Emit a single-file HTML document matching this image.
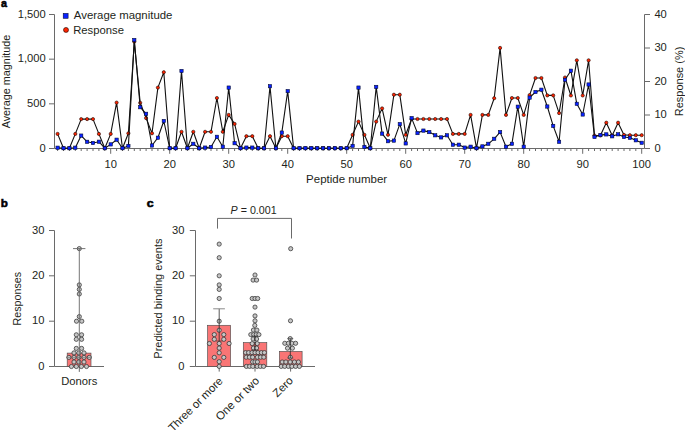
<!DOCTYPE html>
<html><head><meta charset="utf-8">
<style>
html,body{margin:0;padding:0;background:#fff;}
body{width:685px;height:430px;overflow:hidden;}
svg{display:block;}
text{font-family:"Liberation Sans", sans-serif;fill:#231f20;}
.tk{font-size:11.2px;}
.pl{font-size:12px;font-weight:bold;fill:#000;stroke:#000;stroke-width:0.6px;}
.ax{stroke:#6a6a6a;stroke-width:1;fill:none;}
.ln{stroke:#111;stroke-width:1.1;fill:none;stroke-linejoin:round;}
.rc{fill:#ff2400;stroke:#1a0500;stroke-width:0.6;}
.bs{fill:#0a22ff;stroke:#00082a;stroke-width:0.55;}
.wk{stroke:#666;stroke-width:0.9;fill:none;}
.eb{stroke:#222;stroke-width:0.75;fill:none;}
.ec{stroke:#8a8a8a;stroke-width:1;fill:none;}
.bx{fill:#f97575;stroke:#4d4d4d;stroke-width:0.65;}
.gd{fill:#c6c6c6;stroke:#333;stroke-width:0.75;}
</style></head>
<body><svg width="685" height="430" viewBox="0 0 685 430">
<text transform="translate(0.88,6.78) scale(0.896,0.970)" class="pl" style="font-size:12.0px">a</text>
<path d="M54.5,14.5V148.5" class="ax"/>
<path d="M49,148.5H54.5" class="ax"/>
<text x="45.66" y="151.6" class="tk" text-anchor="end">0</text>
<path d="M49,103.83H54.5" class="ax"/>
<text x="45.66" y="106.9" class="tk" text-anchor="end">500</text>
<path d="M49,59.17H54.5" class="ax"/>
<text x="45.66" y="62.3" class="tk" text-anchor="end">1,000</text>
<path d="M49,14.5H54.5" class="ax"/>
<text x="45.66" y="17.6" class="tk" text-anchor="end">1,500</text>
<path d="M644.5,14.5V148.5" class="ax"/>
<path d="M644.5,148.5H650" class="ax"/>
<text x="654.4" y="151.6" class="tk">0</text>
<path d="M644.5,115.0H650" class="ax"/>
<text x="654.4" y="118.1" class="tk">10</text>
<path d="M644.5,81.5H650" class="ax"/>
<text x="654.4" y="84.6" class="tk">20</text>
<path d="M644.5,48.0H650" class="ax"/>
<text x="654.4" y="51.1" class="tk">30</text>
<path d="M644.5,14.5H650" class="ax"/>
<text x="654.4" y="17.6" class="tk">40</text>
<path d="M54.5,148.5H644.5" class="ax"/>
<path d="M57.6,148.5V151" class="ax"/>
<path d="M63.5,148.5V151" class="ax"/>
<path d="M69.4,148.5V151" class="ax"/>
<path d="M75.3,148.5V151" class="ax"/>
<path d="M81.2,148.5V151" class="ax"/>
<path d="M87.1,148.5V151" class="ax"/>
<path d="M93.0,148.5V151" class="ax"/>
<path d="M98.9,148.5V151" class="ax"/>
<path d="M104.8,148.5V151" class="ax"/>
<path d="M110.7,148.5V153.8" class="ax"/>
<text x="110.7" y="167.9" class="tk" text-anchor="middle">10</text>
<path d="M116.6,148.5V151" class="ax"/>
<path d="M122.5,148.5V151" class="ax"/>
<path d="M128.4,148.5V151" class="ax"/>
<path d="M134.3,148.5V151" class="ax"/>
<path d="M140.2,148.5V151" class="ax"/>
<path d="M146.1,148.5V151" class="ax"/>
<path d="M152.0,148.5V151" class="ax"/>
<path d="M157.9,148.5V151" class="ax"/>
<path d="M163.8,148.5V151" class="ax"/>
<path d="M169.7,148.5V153.8" class="ax"/>
<text x="169.7" y="167.9" class="tk" text-anchor="middle">20</text>
<path d="M175.6,148.5V151" class="ax"/>
<path d="M181.5,148.5V151" class="ax"/>
<path d="M187.4,148.5V151" class="ax"/>
<path d="M193.3,148.5V151" class="ax"/>
<path d="M199.2,148.5V151" class="ax"/>
<path d="M205.1,148.5V151" class="ax"/>
<path d="M211.0,148.5V151" class="ax"/>
<path d="M216.9,148.5V151" class="ax"/>
<path d="M222.8,148.5V151" class="ax"/>
<path d="M228.7,148.5V153.8" class="ax"/>
<text x="228.7" y="167.9" class="tk" text-anchor="middle">30</text>
<path d="M234.6,148.5V151" class="ax"/>
<path d="M240.5,148.5V151" class="ax"/>
<path d="M246.4,148.5V151" class="ax"/>
<path d="M252.3,148.5V151" class="ax"/>
<path d="M258.2,148.5V151" class="ax"/>
<path d="M264.1,148.5V151" class="ax"/>
<path d="M270.0,148.5V151" class="ax"/>
<path d="M275.9,148.5V151" class="ax"/>
<path d="M281.8,148.5V151" class="ax"/>
<path d="M287.7,148.5V153.8" class="ax"/>
<text x="287.7" y="167.9" class="tk" text-anchor="middle">40</text>
<path d="M293.6,148.5V151" class="ax"/>
<path d="M299.5,148.5V151" class="ax"/>
<path d="M305.4,148.5V151" class="ax"/>
<path d="M311.3,148.5V151" class="ax"/>
<path d="M317.2,148.5V151" class="ax"/>
<path d="M323.1,148.5V151" class="ax"/>
<path d="M329.0,148.5V151" class="ax"/>
<path d="M334.9,148.5V151" class="ax"/>
<path d="M340.8,148.5V151" class="ax"/>
<path d="M346.7,148.5V153.8" class="ax"/>
<text x="346.7" y="167.9" class="tk" text-anchor="middle">50</text>
<path d="M352.6,148.5V151" class="ax"/>
<path d="M358.5,148.5V151" class="ax"/>
<path d="M364.4,148.5V151" class="ax"/>
<path d="M370.3,148.5V151" class="ax"/>
<path d="M376.2,148.5V151" class="ax"/>
<path d="M382.1,148.5V151" class="ax"/>
<path d="M388.0,148.5V151" class="ax"/>
<path d="M393.9,148.5V151" class="ax"/>
<path d="M399.8,148.5V151" class="ax"/>
<path d="M405.7,148.5V153.8" class="ax"/>
<text x="405.7" y="167.9" class="tk" text-anchor="middle">60</text>
<path d="M411.6,148.5V151" class="ax"/>
<path d="M417.5,148.5V151" class="ax"/>
<path d="M423.4,148.5V151" class="ax"/>
<path d="M429.3,148.5V151" class="ax"/>
<path d="M435.2,148.5V151" class="ax"/>
<path d="M441.1,148.5V151" class="ax"/>
<path d="M447.0,148.5V151" class="ax"/>
<path d="M452.9,148.5V151" class="ax"/>
<path d="M458.8,148.5V151" class="ax"/>
<path d="M464.7,148.5V153.8" class="ax"/>
<text x="464.7" y="167.9" class="tk" text-anchor="middle">70</text>
<path d="M470.6,148.5V151" class="ax"/>
<path d="M476.5,148.5V151" class="ax"/>
<path d="M482.4,148.5V151" class="ax"/>
<path d="M488.3,148.5V151" class="ax"/>
<path d="M494.2,148.5V151" class="ax"/>
<path d="M500.1,148.5V151" class="ax"/>
<path d="M506.0,148.5V151" class="ax"/>
<path d="M511.9,148.5V151" class="ax"/>
<path d="M517.8,148.5V151" class="ax"/>
<path d="M523.7,148.5V153.8" class="ax"/>
<text x="523.7" y="167.9" class="tk" text-anchor="middle">80</text>
<path d="M529.6,148.5V151" class="ax"/>
<path d="M535.5,148.5V151" class="ax"/>
<path d="M541.4,148.5V151" class="ax"/>
<path d="M547.3,148.5V151" class="ax"/>
<path d="M553.2,148.5V151" class="ax"/>
<path d="M559.1,148.5V151" class="ax"/>
<path d="M565.0,148.5V151" class="ax"/>
<path d="M570.9,148.5V151" class="ax"/>
<path d="M576.8,148.5V151" class="ax"/>
<path d="M582.7,148.5V153.8" class="ax"/>
<text x="582.7" y="167.9" class="tk" text-anchor="middle">90</text>
<path d="M588.6,148.5V151" class="ax"/>
<path d="M594.5,148.5V151" class="ax"/>
<path d="M600.4,148.5V151" class="ax"/>
<path d="M606.3,148.5V151" class="ax"/>
<path d="M612.2,148.5V151" class="ax"/>
<path d="M618.1,148.5V151" class="ax"/>
<path d="M624.0,148.5V151" class="ax"/>
<path d="M629.9,148.5V151" class="ax"/>
<path d="M635.8,148.5V151" class="ax"/>
<path d="M641.7,148.5V153.8" class="ax"/>
<text x="641.7" y="167.9" class="tk" text-anchor="middle">100</text>
<text x="306.08" y="182.50" class="tk" style="font-size:11.49px">Peptide number</text>
<text transform="translate(9.80,128.35) rotate(-90)" class="tk" style="font-size:10.84px">Average magnitude</text>
<text transform="translate(683.10,116.18) rotate(-90)" class="tk" style="font-size:10.98px">Response (%)</text>
<rect x="63.2" y="13.4" width="4.9" height="4.9" class="bs"/>
<text x="73.84" y="19.30" class="tk" style="font-size:11.40px">Average magnitude</text>
<circle cx="66" cy="29.95" r="2.5" class="rc"/>
<text x="73.20" y="33.60" class="tk" style="font-size:11.29px">Response</text>
<polyline points="57.60,133.90 63.50,148.20 69.40,148.20 75.30,133.90 81.20,119.10 87.10,119.10 93.00,119.10 98.90,133.90 104.80,148.20 110.70,133.90 116.60,102.60 122.50,148.20 128.40,133.30 134.30,41.70 140.20,102.80 146.10,118.10 152.00,133.30 157.90,87.60 163.80,72.20 169.70,148.20 175.60,148.20 181.50,131.80 187.40,148.20 193.30,131.80 199.20,148.20 205.10,131.80 211.00,131.80 216.90,98.00 222.80,131.80 228.70,114.90 234.60,123.90 240.50,148.20 246.40,136.20 252.30,136.20 258.20,148.20 264.10,148.20 270.00,136.20 275.90,148.20 281.80,136.20 287.70,136.20 293.60,148.20 299.50,148.20 305.40,148.20 311.30,148.20 317.20,148.20 323.10,148.20 329.00,148.20 334.90,148.20 340.80,148.20 346.70,148.20 352.60,134.80 358.50,121.60 364.40,134.80 370.30,148.20 376.20,121.60 382.10,108.40 388.00,134.80 393.90,94.70 399.80,94.70 405.70,134.80 411.60,119.00 417.50,119.00 423.40,119.00 429.30,119.00 435.20,119.00 441.10,119.00 447.00,119.00 452.90,133.90 458.80,133.90 464.70,133.90 470.60,114.90 476.50,148.20 482.40,114.90 488.30,114.90 494.20,98.20 500.10,47.90 506.00,114.90 511.90,98.00 517.80,98.00 523.70,114.90 529.60,95.10 535.50,78.00 541.40,78.00 547.30,95.40 553.20,95.40 559.10,113.10 565.00,77.50 570.90,95.50 576.80,60.30 582.70,95.50 588.60,60.30 594.50,135.50 600.40,135.50 606.30,122.70 612.20,135.50 618.10,122.70 624.00,134.90 629.90,135.20 635.80,135.20 641.70,135.20" class="ln"/>
<circle cx="57.60" cy="133.90" r="1.6" class="rc"/>
<circle cx="63.50" cy="148.20" r="1.6" class="rc"/>
<circle cx="69.40" cy="148.20" r="1.6" class="rc"/>
<circle cx="75.30" cy="133.90" r="1.6" class="rc"/>
<circle cx="81.20" cy="119.10" r="1.6" class="rc"/>
<circle cx="87.10" cy="119.10" r="1.6" class="rc"/>
<circle cx="93.00" cy="119.10" r="1.6" class="rc"/>
<circle cx="98.90" cy="133.90" r="1.6" class="rc"/>
<circle cx="104.80" cy="148.20" r="1.6" class="rc"/>
<circle cx="110.70" cy="133.90" r="1.6" class="rc"/>
<circle cx="116.60" cy="102.60" r="1.6" class="rc"/>
<circle cx="122.50" cy="148.20" r="1.6" class="rc"/>
<circle cx="128.40" cy="133.30" r="1.6" class="rc"/>
<circle cx="134.30" cy="41.70" r="1.6" class="rc"/>
<circle cx="140.20" cy="102.80" r="1.6" class="rc"/>
<circle cx="146.10" cy="118.10" r="1.6" class="rc"/>
<circle cx="152.00" cy="133.30" r="1.6" class="rc"/>
<circle cx="157.90" cy="87.60" r="1.6" class="rc"/>
<circle cx="163.80" cy="72.20" r="1.6" class="rc"/>
<circle cx="169.70" cy="148.20" r="1.6" class="rc"/>
<circle cx="175.60" cy="148.20" r="1.6" class="rc"/>
<circle cx="181.50" cy="131.80" r="1.6" class="rc"/>
<circle cx="187.40" cy="148.20" r="1.6" class="rc"/>
<circle cx="193.30" cy="131.80" r="1.6" class="rc"/>
<circle cx="199.20" cy="148.20" r="1.6" class="rc"/>
<circle cx="205.10" cy="131.80" r="1.6" class="rc"/>
<circle cx="211.00" cy="131.80" r="1.6" class="rc"/>
<circle cx="216.90" cy="98.00" r="1.6" class="rc"/>
<circle cx="222.80" cy="131.80" r="1.6" class="rc"/>
<circle cx="228.70" cy="114.90" r="1.6" class="rc"/>
<circle cx="234.60" cy="123.90" r="1.6" class="rc"/>
<circle cx="240.50" cy="148.20" r="1.6" class="rc"/>
<circle cx="246.40" cy="136.20" r="1.6" class="rc"/>
<circle cx="252.30" cy="136.20" r="1.6" class="rc"/>
<circle cx="258.20" cy="148.20" r="1.6" class="rc"/>
<circle cx="264.10" cy="148.20" r="1.6" class="rc"/>
<circle cx="270.00" cy="136.20" r="1.6" class="rc"/>
<circle cx="275.90" cy="148.20" r="1.6" class="rc"/>
<circle cx="281.80" cy="136.20" r="1.6" class="rc"/>
<circle cx="287.70" cy="136.20" r="1.6" class="rc"/>
<circle cx="293.60" cy="148.20" r="1.6" class="rc"/>
<circle cx="299.50" cy="148.20" r="1.6" class="rc"/>
<circle cx="305.40" cy="148.20" r="1.6" class="rc"/>
<circle cx="311.30" cy="148.20" r="1.6" class="rc"/>
<circle cx="317.20" cy="148.20" r="1.6" class="rc"/>
<circle cx="323.10" cy="148.20" r="1.6" class="rc"/>
<circle cx="329.00" cy="148.20" r="1.6" class="rc"/>
<circle cx="334.90" cy="148.20" r="1.6" class="rc"/>
<circle cx="340.80" cy="148.20" r="1.6" class="rc"/>
<circle cx="346.70" cy="148.20" r="1.6" class="rc"/>
<circle cx="352.60" cy="134.80" r="1.6" class="rc"/>
<circle cx="358.50" cy="121.60" r="1.6" class="rc"/>
<circle cx="364.40" cy="134.80" r="1.6" class="rc"/>
<circle cx="370.30" cy="148.20" r="1.6" class="rc"/>
<circle cx="376.20" cy="121.60" r="1.6" class="rc"/>
<circle cx="382.10" cy="108.40" r="1.6" class="rc"/>
<circle cx="388.00" cy="134.80" r="1.6" class="rc"/>
<circle cx="393.90" cy="94.70" r="1.6" class="rc"/>
<circle cx="399.80" cy="94.70" r="1.6" class="rc"/>
<circle cx="405.70" cy="134.80" r="1.6" class="rc"/>
<circle cx="411.60" cy="119.00" r="1.6" class="rc"/>
<circle cx="417.50" cy="119.00" r="1.6" class="rc"/>
<circle cx="423.40" cy="119.00" r="1.6" class="rc"/>
<circle cx="429.30" cy="119.00" r="1.6" class="rc"/>
<circle cx="435.20" cy="119.00" r="1.6" class="rc"/>
<circle cx="441.10" cy="119.00" r="1.6" class="rc"/>
<circle cx="447.00" cy="119.00" r="1.6" class="rc"/>
<circle cx="452.90" cy="133.90" r="1.6" class="rc"/>
<circle cx="458.80" cy="133.90" r="1.6" class="rc"/>
<circle cx="464.70" cy="133.90" r="1.6" class="rc"/>
<circle cx="470.60" cy="114.90" r="1.6" class="rc"/>
<circle cx="476.50" cy="148.20" r="1.6" class="rc"/>
<circle cx="482.40" cy="114.90" r="1.6" class="rc"/>
<circle cx="488.30" cy="114.90" r="1.6" class="rc"/>
<circle cx="494.20" cy="98.20" r="1.6" class="rc"/>
<circle cx="500.10" cy="47.90" r="1.6" class="rc"/>
<circle cx="506.00" cy="114.90" r="1.6" class="rc"/>
<circle cx="511.90" cy="98.00" r="1.6" class="rc"/>
<circle cx="517.80" cy="98.00" r="1.6" class="rc"/>
<circle cx="523.70" cy="114.90" r="1.6" class="rc"/>
<circle cx="529.60" cy="95.10" r="1.6" class="rc"/>
<circle cx="535.50" cy="78.00" r="1.6" class="rc"/>
<circle cx="541.40" cy="78.00" r="1.6" class="rc"/>
<circle cx="547.30" cy="95.40" r="1.6" class="rc"/>
<circle cx="553.20" cy="95.40" r="1.6" class="rc"/>
<circle cx="559.10" cy="113.10" r="1.6" class="rc"/>
<circle cx="565.00" cy="77.50" r="1.6" class="rc"/>
<circle cx="570.90" cy="95.50" r="1.6" class="rc"/>
<circle cx="576.80" cy="60.30" r="1.6" class="rc"/>
<circle cx="582.70" cy="95.50" r="1.6" class="rc"/>
<circle cx="588.60" cy="60.30" r="1.6" class="rc"/>
<circle cx="594.50" cy="135.50" r="1.6" class="rc"/>
<circle cx="600.40" cy="135.50" r="1.6" class="rc"/>
<circle cx="606.30" cy="122.70" r="1.6" class="rc"/>
<circle cx="612.20" cy="135.50" r="1.6" class="rc"/>
<circle cx="618.10" cy="122.70" r="1.6" class="rc"/>
<circle cx="624.00" cy="134.90" r="1.6" class="rc"/>
<circle cx="629.90" cy="135.20" r="1.6" class="rc"/>
<circle cx="635.80" cy="135.20" r="1.6" class="rc"/>
<circle cx="641.70" cy="135.20" r="1.6" class="rc"/>
<polyline points="57.60,147.70 63.50,148.20 69.40,148.20 75.30,147.70 81.20,135.60 87.10,141.80 93.00,143.00 98.90,141.70 104.80,148.20 110.70,144.40 116.60,139.70 122.50,148.20 128.40,145.90 134.30,40.00 140.20,107.20 146.10,113.80 152.00,145.50 157.90,137.70 163.80,121.00 169.70,148.20 175.60,148.20 181.50,71.00 187.40,148.20 193.30,143.80 199.20,148.20 205.10,147.60 211.00,147.00 216.90,136.80 222.80,146.70 228.70,87.60 234.60,143.20 240.50,148.20 246.40,147.60 252.30,147.60 258.20,148.20 264.10,148.20 270.00,86.20 275.90,148.20 281.80,132.60 287.70,91.10 293.60,148.20 299.50,148.20 305.40,148.20 311.30,148.20 317.20,148.20 323.10,148.20 329.00,148.20 334.90,148.20 340.80,148.20 346.70,148.20 352.60,145.90 358.50,87.60 364.40,146.90 370.30,148.20 376.20,86.90 382.10,133.60 388.00,141.20 393.90,140.60 399.80,124.10 405.70,143.40 411.60,118.10 417.50,133.10 423.40,130.60 429.30,132.10 435.20,135.30 441.10,137.40 447.00,135.30 452.90,144.70 458.80,144.70 464.70,147.60 470.60,146.70 476.50,148.20 482.40,146.40 488.30,143.80 494.20,138.80 500.10,132.10 506.00,146.70 511.90,143.80 517.80,106.70 523.70,146.70 529.60,97.60 535.50,92.00 541.40,89.70 547.30,106.50 553.20,125.90 559.10,141.80 565.00,79.80 570.90,70.70 576.80,103.80 582.70,114.50 588.60,84.50 594.50,137.00 600.40,135.10 606.30,134.40 612.20,136.30 618.10,134.30 624.00,137.00 629.90,137.80 635.80,140.30 641.70,142.80" class="ln"/>
<rect x="55.95" y="146.05" width="3.3" height="3.3" class="bs"/>
<rect x="61.85" y="146.55" width="3.3" height="3.3" class="bs"/>
<rect x="67.75" y="146.55" width="3.3" height="3.3" class="bs"/>
<rect x="73.65" y="146.05" width="3.3" height="3.3" class="bs"/>
<rect x="79.55" y="133.95" width="3.3" height="3.3" class="bs"/>
<rect x="85.45" y="140.15" width="3.3" height="3.3" class="bs"/>
<rect x="91.35" y="141.35" width="3.3" height="3.3" class="bs"/>
<rect x="97.25" y="140.05" width="3.3" height="3.3" class="bs"/>
<rect x="103.15" y="146.55" width="3.3" height="3.3" class="bs"/>
<rect x="109.05" y="142.75" width="3.3" height="3.3" class="bs"/>
<rect x="114.95" y="138.05" width="3.3" height="3.3" class="bs"/>
<rect x="120.85" y="146.55" width="3.3" height="3.3" class="bs"/>
<rect x="126.75" y="144.25" width="3.3" height="3.3" class="bs"/>
<rect x="132.65" y="38.35" width="3.3" height="3.3" class="bs"/>
<rect x="138.55" y="105.55" width="3.3" height="3.3" class="bs"/>
<rect x="144.45" y="112.15" width="3.3" height="3.3" class="bs"/>
<rect x="150.35" y="143.85" width="3.3" height="3.3" class="bs"/>
<rect x="156.25" y="136.05" width="3.3" height="3.3" class="bs"/>
<rect x="162.15" y="119.35" width="3.3" height="3.3" class="bs"/>
<rect x="168.05" y="146.55" width="3.3" height="3.3" class="bs"/>
<rect x="173.95" y="146.55" width="3.3" height="3.3" class="bs"/>
<rect x="179.85" y="69.35" width="3.3" height="3.3" class="bs"/>
<rect x="185.75" y="146.55" width="3.3" height="3.3" class="bs"/>
<rect x="191.65" y="142.15" width="3.3" height="3.3" class="bs"/>
<rect x="197.55" y="146.55" width="3.3" height="3.3" class="bs"/>
<rect x="203.45" y="145.95" width="3.3" height="3.3" class="bs"/>
<rect x="209.35" y="145.35" width="3.3" height="3.3" class="bs"/>
<rect x="215.25" y="135.15" width="3.3" height="3.3" class="bs"/>
<rect x="221.15" y="145.05" width="3.3" height="3.3" class="bs"/>
<rect x="227.05" y="85.95" width="3.3" height="3.3" class="bs"/>
<rect x="232.95" y="141.55" width="3.3" height="3.3" class="bs"/>
<rect x="238.85" y="146.55" width="3.3" height="3.3" class="bs"/>
<rect x="244.75" y="145.95" width="3.3" height="3.3" class="bs"/>
<rect x="250.65" y="145.95" width="3.3" height="3.3" class="bs"/>
<rect x="256.55" y="146.55" width="3.3" height="3.3" class="bs"/>
<rect x="262.45" y="146.55" width="3.3" height="3.3" class="bs"/>
<rect x="268.35" y="84.55" width="3.3" height="3.3" class="bs"/>
<rect x="274.25" y="146.55" width="3.3" height="3.3" class="bs"/>
<rect x="280.15" y="130.95" width="3.3" height="3.3" class="bs"/>
<rect x="286.05" y="89.45" width="3.3" height="3.3" class="bs"/>
<rect x="291.95" y="146.55" width="3.3" height="3.3" class="bs"/>
<rect x="297.85" y="146.55" width="3.3" height="3.3" class="bs"/>
<rect x="303.75" y="146.55" width="3.3" height="3.3" class="bs"/>
<rect x="309.65" y="146.55" width="3.3" height="3.3" class="bs"/>
<rect x="315.55" y="146.55" width="3.3" height="3.3" class="bs"/>
<rect x="321.45" y="146.55" width="3.3" height="3.3" class="bs"/>
<rect x="327.35" y="146.55" width="3.3" height="3.3" class="bs"/>
<rect x="333.25" y="146.55" width="3.3" height="3.3" class="bs"/>
<rect x="339.15" y="146.55" width="3.3" height="3.3" class="bs"/>
<rect x="345.05" y="146.55" width="3.3" height="3.3" class="bs"/>
<rect x="350.95" y="144.25" width="3.3" height="3.3" class="bs"/>
<rect x="356.85" y="85.95" width="3.3" height="3.3" class="bs"/>
<rect x="362.75" y="145.25" width="3.3" height="3.3" class="bs"/>
<rect x="368.65" y="146.55" width="3.3" height="3.3" class="bs"/>
<rect x="374.55" y="85.25" width="3.3" height="3.3" class="bs"/>
<rect x="380.45" y="131.95" width="3.3" height="3.3" class="bs"/>
<rect x="386.35" y="139.55" width="3.3" height="3.3" class="bs"/>
<rect x="392.25" y="138.95" width="3.3" height="3.3" class="bs"/>
<rect x="398.15" y="122.45" width="3.3" height="3.3" class="bs"/>
<rect x="404.05" y="141.75" width="3.3" height="3.3" class="bs"/>
<rect x="409.95" y="116.45" width="3.3" height="3.3" class="bs"/>
<rect x="415.85" y="131.45" width="3.3" height="3.3" class="bs"/>
<rect x="421.75" y="128.95" width="3.3" height="3.3" class="bs"/>
<rect x="427.65" y="130.45" width="3.3" height="3.3" class="bs"/>
<rect x="433.55" y="133.65" width="3.3" height="3.3" class="bs"/>
<rect x="439.45" y="135.75" width="3.3" height="3.3" class="bs"/>
<rect x="445.35" y="133.65" width="3.3" height="3.3" class="bs"/>
<rect x="451.25" y="143.05" width="3.3" height="3.3" class="bs"/>
<rect x="457.15" y="143.05" width="3.3" height="3.3" class="bs"/>
<rect x="463.05" y="145.95" width="3.3" height="3.3" class="bs"/>
<rect x="468.95" y="145.05" width="3.3" height="3.3" class="bs"/>
<rect x="474.85" y="146.55" width="3.3" height="3.3" class="bs"/>
<rect x="480.75" y="144.75" width="3.3" height="3.3" class="bs"/>
<rect x="486.65" y="142.15" width="3.3" height="3.3" class="bs"/>
<rect x="492.55" y="137.15" width="3.3" height="3.3" class="bs"/>
<rect x="498.45" y="130.45" width="3.3" height="3.3" class="bs"/>
<rect x="504.35" y="145.05" width="3.3" height="3.3" class="bs"/>
<rect x="510.25" y="142.15" width="3.3" height="3.3" class="bs"/>
<rect x="516.15" y="105.05" width="3.3" height="3.3" class="bs"/>
<rect x="522.05" y="145.05" width="3.3" height="3.3" class="bs"/>
<rect x="527.95" y="95.95" width="3.3" height="3.3" class="bs"/>
<rect x="533.85" y="90.35" width="3.3" height="3.3" class="bs"/>
<rect x="539.75" y="88.05" width="3.3" height="3.3" class="bs"/>
<rect x="545.65" y="104.85" width="3.3" height="3.3" class="bs"/>
<rect x="551.55" y="124.25" width="3.3" height="3.3" class="bs"/>
<rect x="557.45" y="140.15" width="3.3" height="3.3" class="bs"/>
<rect x="563.35" y="78.15" width="3.3" height="3.3" class="bs"/>
<rect x="569.25" y="69.05" width="3.3" height="3.3" class="bs"/>
<rect x="575.15" y="102.15" width="3.3" height="3.3" class="bs"/>
<rect x="581.05" y="112.85" width="3.3" height="3.3" class="bs"/>
<rect x="586.95" y="82.85" width="3.3" height="3.3" class="bs"/>
<rect x="592.85" y="135.35" width="3.3" height="3.3" class="bs"/>
<rect x="598.75" y="133.45" width="3.3" height="3.3" class="bs"/>
<rect x="604.65" y="132.75" width="3.3" height="3.3" class="bs"/>
<rect x="610.55" y="134.65" width="3.3" height="3.3" class="bs"/>
<rect x="616.45" y="132.65" width="3.3" height="3.3" class="bs"/>
<rect x="622.35" y="135.35" width="3.3" height="3.3" class="bs"/>
<rect x="628.25" y="136.15" width="3.3" height="3.3" class="bs"/>
<rect x="634.15" y="138.65" width="3.3" height="3.3" class="bs"/>
<rect x="640.05" y="141.15" width="3.3" height="3.3" class="bs"/>
<text transform="translate(0.74,206.90) scale(0.974,0.839)" class="pl" style="font-size:12.0px">b</text>
<path d="M54.5,230.5V366.5" class="ax"/>
<path d="M49,366.5H54.5" class="ax"/>
<text x="44.46" y="369.5" class="tk" text-anchor="end">0</text>
<path d="M49,321.2H54.5" class="ax"/>
<text x="44.46" y="324.2" class="tk" text-anchor="end">10</text>
<path d="M49,275.8H54.5" class="ax"/>
<text x="44.46" y="278.8" class="tk" text-anchor="end">20</text>
<path d="M49,230.5H54.5" class="ax"/>
<text x="44.46" y="233.5" class="tk" text-anchor="end">30</text>
<path d="M54.5,366.5H104" class="ax"/>
<path d="M79.3,366.5V371.9" class="ax"/>
<text x="61.20" y="384.50" class="tk" style="font-size:11.22px">Donors</text>
<text transform="translate(21.30,325.46) rotate(-90)" class="tk" style="font-size:10.72px">Responses</text>
<rect x="67.2" y="353.1" width="23.8" height="13.4" class="bx"/>
<circle cx="79.3" cy="248.6" r="2.1" class="gd"/>
<circle cx="79.3" cy="284.9" r="2.1" class="gd"/>
<circle cx="79.3" cy="289.4" r="2.1" class="gd"/>
<circle cx="79.3" cy="294.0" r="2.1" class="gd"/>
<circle cx="79.3" cy="316.6" r="2.1" class="gd"/>
<circle cx="76.5" cy="321.2" r="2.1" class="gd"/>
<circle cx="81.8" cy="321.2" r="2.1" class="gd"/>
<circle cx="76.3" cy="334.8" r="2.1" class="gd"/>
<circle cx="81.6" cy="334.8" r="2.1" class="gd"/>
<circle cx="76.3" cy="339.3" r="2.1" class="gd"/>
<circle cx="81.6" cy="339.3" r="2.1" class="gd"/>
<circle cx="76.3" cy="348.4" r="2.1" class="gd"/>
<circle cx="81.6" cy="348.4" r="2.1" class="gd"/>
<circle cx="74.0" cy="352.9" r="2.1" class="gd"/>
<circle cx="78.85" cy="352.9" r="2.1" class="gd"/>
<circle cx="84.0" cy="352.9" r="2.1" class="gd"/>
<circle cx="68.9" cy="357.4" r="2.1" class="gd"/>
<circle cx="74.0" cy="357.4" r="2.1" class="gd"/>
<circle cx="78.85" cy="357.4" r="2.1" class="gd"/>
<circle cx="84.0" cy="357.4" r="2.1" class="gd"/>
<circle cx="89.3" cy="357.4" r="2.1" class="gd"/>
<circle cx="74.0" cy="362.0" r="2.1" class="gd"/>
<circle cx="78.85" cy="362.0" r="2.1" class="gd"/>
<circle cx="84.0" cy="362.0" r="2.1" class="gd"/>
<circle cx="71.4" cy="366.5" r="2.1" class="gd"/>
<circle cx="76.3" cy="366.5" r="2.1" class="gd"/>
<circle cx="81.4" cy="366.5" r="2.1" class="gd"/>
<circle cx="86.5" cy="366.5" r="2.1" class="gd"/>
<path d="M79.3,248.6V366.5" class="wk"/>
<path d="M66,357.4H92" class="wk" style="stroke-width:0.6"/>
<path d="M73,248.6H85.4" class="wk"/>
<text transform="translate(146.71,207.19) scale(1.031,0.894)" class="pl" style="font-size:12.0px">c</text>
<path d="M195.5,230.5V366.5" class="ax"/>
<path d="M189.8,366.5H195.5" class="ax"/>
<text x="184.56" y="369.5" class="tk" text-anchor="end">0</text>
<path d="M189.8,321.2H195.5" class="ax"/>
<text x="184.56" y="324.2" class="tk" text-anchor="end">10</text>
<path d="M189.8,275.8H195.5" class="ax"/>
<text x="184.56" y="278.8" class="tk" text-anchor="end">20</text>
<path d="M189.8,230.5H195.5" class="ax"/>
<text x="184.56" y="233.5" class="tk" text-anchor="end">30</text>
<path d="M195.5,366.5H315" class="ax"/>
<path d="M219.2,366.5V371.6" class="ax"/>
<path d="M255.0,366.5V371.6" class="ax"/>
<path d="M290.6,366.5V371.6" class="ax"/>
<text transform="translate(161.50,358.68) rotate(-90)" class="tk" style="font-size:10.97px">Predicted binding events</text>
<path d="M217.5,228.6V218.4H291.5V238.5" class="ax" fill="none"/>
<text x="230.6" y="213.8" class="tk" style="font-size:10.7px"><tspan font-style="italic">P</tspan> = 0.001</text>
<rect x="207.6" y="325.3" width="23.0" height="41.2" class="bx"/>
<rect x="243.3" y="342.6" width="23.5" height="23.9" class="bx"/>
<rect x="279.4" y="351.4" width="22.7" height="15.1" class="bx"/>
<circle cx="219.2" cy="244.1" r="2.1" class="gd"/>
<circle cx="219.2" cy="257.7" r="2.1" class="gd"/>
<circle cx="219.2" cy="275.8" r="2.1" class="gd"/>
<circle cx="219.2" cy="284.9" r="2.1" class="gd"/>
<circle cx="219.2" cy="289.4" r="2.1" class="gd"/>
<circle cx="219.2" cy="298.5" r="2.1" class="gd"/>
<circle cx="219.2" cy="321.2" r="2.1" class="gd"/>
<circle cx="219.2" cy="330.2" r="2.1" class="gd"/>
<circle cx="214.3" cy="334.6" r="2.1" class="gd"/>
<circle cx="223.8" cy="334.6" r="2.1" class="gd"/>
<circle cx="214.3" cy="339.3" r="2.1" class="gd"/>
<circle cx="223.8" cy="339.3" r="2.1" class="gd"/>
<circle cx="209.4" cy="343.5" r="2.1" class="gd"/>
<circle cx="219.2" cy="343.5" r="2.1" class="gd"/>
<circle cx="229.1" cy="343.5" r="2.1" class="gd"/>
<circle cx="219.2" cy="348.1" r="2.1" class="gd"/>
<circle cx="219.2" cy="352.8" r="2.1" class="gd"/>
<circle cx="214.3" cy="357.4" r="2.1" class="gd"/>
<circle cx="223.8" cy="357.4" r="2.1" class="gd"/>
<circle cx="219.2" cy="361.7" r="2.1" class="gd"/>
<circle cx="219.2" cy="366.4" r="2.1" class="gd"/>
<circle cx="255" cy="275.0" r="2.1" class="gd"/>
<circle cx="253.1" cy="280.1" r="2.1" class="gd"/>
<circle cx="256.6" cy="280.1" r="2.1" class="gd"/>
<circle cx="252.2" cy="298.5" r="2.1" class="gd"/>
<circle cx="255" cy="298.5" r="2.1" class="gd"/>
<circle cx="257.7" cy="298.5" r="2.1" class="gd"/>
<circle cx="255" cy="307.1" r="2.1" class="gd"/>
<circle cx="255" cy="315.9" r="2.1" class="gd"/>
<circle cx="255" cy="320.8" r="2.1" class="gd"/>
<circle cx="254.8" cy="325.4" r="2.1" class="gd"/>
<circle cx="253.4" cy="330.1" r="2.1" class="gd"/>
<circle cx="256.9" cy="330.1" r="2.1" class="gd"/>
<circle cx="250.8" cy="334.6" r="2.1" class="gd"/>
<circle cx="253.7" cy="334.6" r="2.1" class="gd"/>
<circle cx="256.3" cy="334.6" r="2.1" class="gd"/>
<circle cx="258.9" cy="334.6" r="2.1" class="gd"/>
<circle cx="253.1" cy="339.0" r="2.1" class="gd"/>
<circle cx="256.6" cy="339.0" r="2.1" class="gd"/>
<circle cx="252.2" cy="343.6" r="2.1" class="gd"/>
<circle cx="257.2" cy="343.6" r="2.1" class="gd"/>
<circle cx="253.4" cy="348.1" r="2.1" class="gd"/>
<circle cx="256.6" cy="348.1" r="2.1" class="gd"/>
<circle cx="245.6" cy="352.6" r="2.1" class="gd"/>
<circle cx="248.6" cy="352.6" r="2.1" class="gd"/>
<circle cx="252.0" cy="352.6" r="2.1" class="gd"/>
<circle cx="255.0" cy="352.6" r="2.1" class="gd"/>
<circle cx="258.0" cy="352.6" r="2.1" class="gd"/>
<circle cx="261.4" cy="352.6" r="2.1" class="gd"/>
<circle cx="264.4" cy="352.6" r="2.1" class="gd"/>
<circle cx="246.2" cy="357.2" r="2.1" class="gd"/>
<circle cx="249.4" cy="357.2" r="2.1" class="gd"/>
<circle cx="252.6" cy="357.2" r="2.1" class="gd"/>
<circle cx="257.4" cy="357.2" r="2.1" class="gd"/>
<circle cx="260.6" cy="357.2" r="2.1" class="gd"/>
<circle cx="263.8" cy="357.2" r="2.1" class="gd"/>
<circle cx="252.6" cy="361.9" r="2.1" class="gd"/>
<circle cx="255.0" cy="361.9" r="2.1" class="gd"/>
<circle cx="257.4" cy="361.9" r="2.1" class="gd"/>
<circle cx="246.4" cy="366.4" r="2.1" class="gd"/>
<circle cx="249.6" cy="366.4" r="2.1" class="gd"/>
<circle cx="252.8" cy="366.4" r="2.1" class="gd"/>
<circle cx="257.2" cy="366.4" r="2.1" class="gd"/>
<circle cx="260.4" cy="366.4" r="2.1" class="gd"/>
<circle cx="263.6" cy="366.4" r="2.1" class="gd"/>
<circle cx="290.7" cy="248.7" r="2.1" class="gd"/>
<circle cx="290.5" cy="320.8" r="2.1" class="gd"/>
<circle cx="290.2" cy="338.6" r="2.1" class="gd"/>
<circle cx="284.8" cy="343.3" r="2.1" class="gd"/>
<circle cx="288.4" cy="343.3" r="2.1" class="gd"/>
<circle cx="291.9" cy="343.3" r="2.1" class="gd"/>
<circle cx="295.6" cy="343.3" r="2.1" class="gd"/>
<circle cx="287.5" cy="348.2" r="2.1" class="gd"/>
<circle cx="292.4" cy="348.2" r="2.1" class="gd"/>
<circle cx="290.3" cy="357.2" r="2.1" class="gd"/>
<circle cx="282.2" cy="362.0" r="2.1" class="gd"/>
<circle cx="285.9" cy="362.0" r="2.1" class="gd"/>
<circle cx="290.2" cy="362.0" r="2.1" class="gd"/>
<circle cx="294.4" cy="362.0" r="2.1" class="gd"/>
<circle cx="298.4" cy="362.0" r="2.1" class="gd"/>
<circle cx="281.2" cy="366.4" r="2.1" class="gd"/>
<circle cx="284.7" cy="366.4" r="2.1" class="gd"/>
<circle cx="288.4" cy="366.4" r="2.1" class="gd"/>
<circle cx="291.9" cy="366.4" r="2.1" class="gd"/>
<circle cx="295.6" cy="366.4" r="2.1" class="gd"/>
<circle cx="299.4" cy="366.4" r="2.1" class="gd"/>
<path d="M219.2,308.8V341M255,336V350M290.3,338.6V358" class="eb"/>
<path d="M213.2,308.8H224.9" class="ec"/>
<path d="M216,341H222.4M252,336H258M252,350H258M287.3,338.6H293.3M287.3,358H293.3" class="eb" style="stroke-width:0.5"/>
<text transform="translate(223.5,381.7) rotate(-45)" class="tk" text-anchor="end" style="font-size:11.3px">Three or more</text>
<text transform="translate(260.0,381.6) rotate(-45)" class="tk" text-anchor="end" style="font-size:11.5px">One or two</text>
<text transform="translate(293.8,381.3) rotate(-45)" class="tk" text-anchor="end" style="font-size:11.3px">Zero</text>
</svg></body></html>
